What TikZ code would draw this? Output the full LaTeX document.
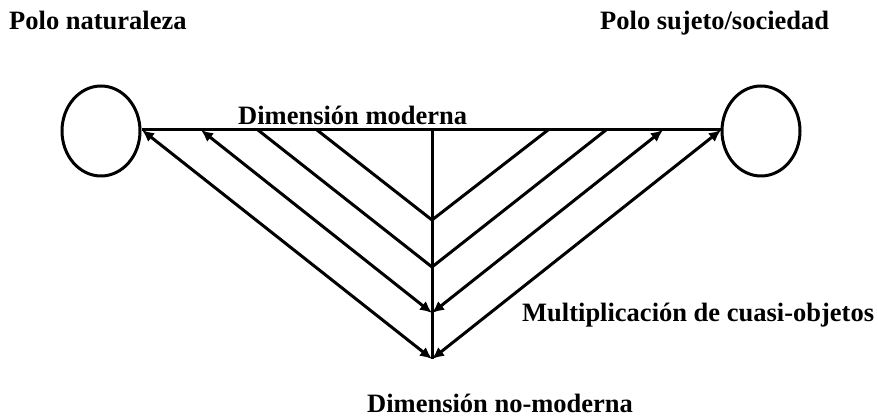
\documentclass[tikz,border=0pt]{standalone}
\usepackage{fontspec}
\setmainfont{Liberation Serif}
\usetikzlibrary{arrows.meta,shapes.geometric}
\tikzset{
  lbl/.style={anchor=base west, inner sep=0pt, font=\fontsize{26.5}{30}\selectfont\bfseries},
  pole/.style={draw, line width=3pt, ellipse, minimum width=78pt, minimum height=90pt, inner sep=0pt},
  ln/.style={line width=3pt},
  biarrow/.style={ln, {Latex[length=12pt,width=11pt]}-{Latex[length=12pt,width=11pt]}},
}
\begin{document}
\begin{tikzpicture}[x=1pt,y=-1pt]
\useasboundingbox (0,0) rectangle (878,419);
% labels
\node[lbl] (tn) at (9,30) {Polo naturaleza};
\node[lbl] (ts) at (600,30) {Polo sujeto/sociedad};
\node[lbl] (tm) at (238,125) {Dimensión moderna};
\node[lbl] (tq) at (522,322) {Multiplicación de cuasi-objetos};
\node[lbl] (tnm) at (367,413) {Dimensión no-moderna};
% poles
\node[pole] (nat) at (101,131) {};
\node[pole] (soc) at (761,131) {};
% top line coordinates
\coordinate (a1) at (142,130);
\coordinate (a2) at (201,130);
\coordinate (a3) at (258,130);
\coordinate (a4) at (317,130);
\coordinate (top) at (432,130);
\coordinate (b4) at (548,130);
\coordinate (b3) at (606,130);
\coordinate (b2) at (663,130);
\coordinate (b1) at (721,130);
% junctions on vertical
\coordinate (j4) at (432,220);
\coordinate (j3) at (432,267);
\coordinate (j2) at (432,313);
\coordinate (j1) at (432,359);
% lines
\draw[ln] (a1) -- (b1);
\draw[ln] (top) -- (j1);
\draw[ln] (a4) -- (j4);
\draw[ln] (b4) -- (j4);
\draw[ln] (a3) -- (j3);
\draw[ln] (b3) -- (j3);
\draw[biarrow] (a2) -- (j2);
\draw[biarrow] (b2) -- (j2);
\draw[biarrow] (a1) -- (j1);
\draw[biarrow] (b1) -- (j1);
\end{tikzpicture}
\end{document}
